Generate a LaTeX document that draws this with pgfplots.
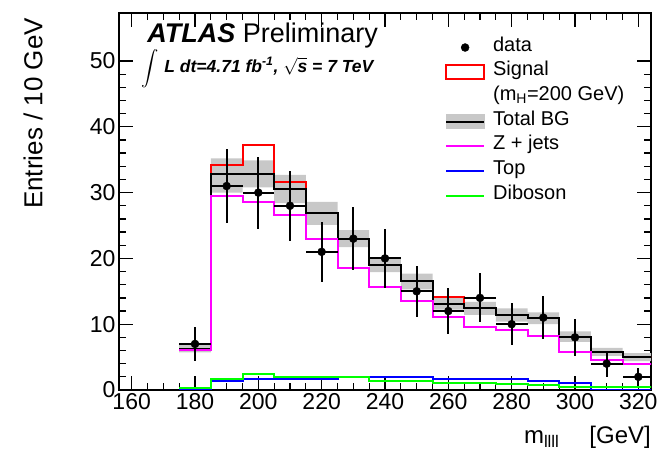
\documentclass[border=0pt]{standalone}
\usepackage{fontspec}
\setmainfont{Liberation Sans}
\usepackage{exscale}
\usepackage{pgfplots}
\usepackage{pgfplotstable}
\pgfplotsset{compat=1.18}
\usepgfplotslibrary{fillbetween}
\usetikzlibrary{calc}

\definecolor{hred}{RGB}{255,0,0}
\definecolor{hmag}{RGB}{255,0,255}
\definecolor{hblue}{RGB}{0,0,255}
\definecolor{hgreen}{RGB}{0,255,0}
\definecolor{hband}{RGB}{200,200,200}

% left bin edges; last row repeats the last bin at the right edge
\pgfplotstableread{
x    bg    up    lo    zj    top  dib   sig
175  6.3   6.9   5.7   6.1   0.0  0.25  6.3
185  32.9  35.2  30.0  29.5  1.3  1.6   34.2
195  32.9  34.9  30.8  28.5  1.6  2.5   37.2
205  30.5  32.7  28.4  26.6  1.6  1.9   31.6
215  26.9  28.6  25.1  22.9  1.6  1.9   26.9
225  23.0  24.3  21.7  18.6  1.9  1.9   23.0
235  19.0  20.0  17.9  15.7  2.0  1.3   19.0
245  16.5  17.7  15.3  13.5  2.0  1.3   16.5
255  13.1  14.0  12.2  11.1  1.6  1.1   14.1
265  12.4  13.4  11.4  9.5   1.6  1.1   12.4
275  11.4  12.4  10.4  9.1   1.6  0.9   11.4
285  10.9  11.8  10.0  8.2   1.3  0.8   10.9
295  8.1   8.9   7.3   5.8   1.1  0.5   8.1
305  5.8   6.4   5.2   4.6   0.0  0.5   5.8
315  5.0   5.6   4.4   3.9   0.0  0.5   5.0
325  5.0   5.6   4.4   3.9   0.0  0.5   5.0
}\hist

\pgfplotstableread{
x    y   ex  ey
180  7   5   2.65
190  31  5   5.57
200  30  5   5.48
210  28  5   5.29
220  21  5   4.58
230  23  5   4.80
240  20  5   4.47
250  15  5   3.87
260  12  5   3.46
270  14  5   3.74
280  10  5   3.16
290  11  5   3.32
300  8   5   2.83
310  4   5   2.00
320  2   5   1.41
}\data

\begin{document}
\begin{tikzpicture}
\begin{axis}[
  name=main,
  scale only axis,
  width=532pt, height=377pt,
  xmin=156, xmax=324, ymin=0, ymax=57.3,
  xtick={160,180,...,320}, minor x tick num=3,
  ytick={0,10,...,50}, minor y tick num=4,
  major tick length=14pt, minor tick length=7pt,
  tick align=inside,
  every tick/.style={black, line width=1.3pt},
  axis line style={line width=1.8pt},
  /pgf/number format/assume math mode=true,
  ticklabel style={font=\fontsize{23}{26}\selectfont},
  xlabel={m$_{\mathrm{llll}}$\hspace{30pt}[GeV]},
  xlabel style={at={(axis description cs:1,0)}, anchor=north east, yshift=-36pt, inner sep=0pt, font=\fontsize{24}{28}\selectfont},
  ylabel={Entries / 10 GeV},
  ylabel style={at={(axis description cs:-0.143,0.987)}, rotate=0, anchor=south east, inner sep=0pt, font=\fontsize{26}{30}\selectfont},
  legend style={at={(axis description cs:0.607,0.947)}, anchor=north west, draw=none, fill=none,
    font=\fontsize{20}{24}\selectfont, row sep=0pt, column sep=8pt,
    nodes={inner sep=0pt, text height=16pt, text depth=8.7pt}},
  legend cell align=left,
  clip=true,
]
% legend entries
\addlegendimage{black, legend image code/.code={\fill (19pt,0pt) circle (4pt);}}
\addlegendentry{data}
\addlegendimage{hred, legend image code/.code={\draw[line width=2pt] (0pt,-7pt) rectangle (38pt,7pt);}}
\addlegendentry{Signal}
\addlegendimage{empty legend}
\addlegendentry{(m$_{\mathrm{H}}$=200 GeV)}
\addlegendimage{black, legend image code/.code={\fill[hband] (0pt,-7pt) rectangle (38pt,7pt); \draw[line width=2pt] (0pt,0pt) -- (38pt,0pt);}}
\addlegendentry{Total BG}
\addlegendimage{hmag, line width=2pt, legend image code/.code={\draw (0pt,0pt) -- (38pt,0pt);}}
\addlegendentry{Z + jets}
\addlegendimage{hblue, line width=2pt, legend image code/.code={\draw (0pt,0pt) -- (38pt,0pt);}}
\addlegendentry{Top}
\addlegendimage{hgreen, line width=2pt, legend image code/.code={\draw (0pt,0pt) -- (38pt,0pt);}}
\addlegendentry{Diboson}

% uncertainty band
\addplot[const plot, draw=none, name path=up, forget plot] table[x=x, y=up] {\hist};
\addplot[const plot, draw=none, name path=lo, forget plot] table[x=x, y=lo] {\hist};
\addplot[fill=hband, draw=none, forget plot] fill between[of=up and lo];

% signal + BG
\addplot[const plot, hred, line width=2pt, forget plot] table[x=x, y=sig] {\hist};
% total BG
\addplot[const plot, black, line width=2pt, forget plot] table[x=x, y=bg] {\hist};
% Z+jets
\addplot[const plot, hmag, line width=2pt, forget plot] table[x=x, y=zj] {\hist};
% Top
\addplot[const plot, hblue, line width=2pt, forget plot] table[x=x, y=top] {\hist};
% Diboson
\addplot[const plot, hgreen, line width=2pt, forget plot] table[x=x, y=dib] {\hist};

% data
\addplot[black, only marks, mark=*, mark size=4pt, forget plot,
  error bars/.cd, x dir=both, x explicit, y dir=both, y explicit,
  error mark=none, error bar style={line width=2pt, black}]
  table[x=x, y=y, x error=ex, y error=ey] {\data};

\node[anchor=base west, inner sep=0pt, font=\fontsize{27}{30}\selectfont] at (axis description cs:0.053,0.923)
  {\textbf{\textit{ATLAS}} Preliminary};
\node[anchor=north west, inner sep=0pt, font=\fontsize{19}{22}\selectfont] at (axis description cs:0.042,0.905)
  {$\displaystyle\int$};
\node[anchor=base west, inner sep=0pt, font=\fontsize{17.5}{20}\selectfont] at (axis description cs:0.085,0.843)
  {\textbf{\textit{L dt=4.71 fb\textsuperscript{-1}, $\sqrt{\mbox{\textbf{\textit{s}}}}$ = 7 TeV}}};
\end{axis}
\pgfresetboundingbox
\path ($(main.south west)+(-119pt,-76pt)$) rectangle ($(main.north east)+(16pt,13pt)$);
\end{tikzpicture}
\end{document}
